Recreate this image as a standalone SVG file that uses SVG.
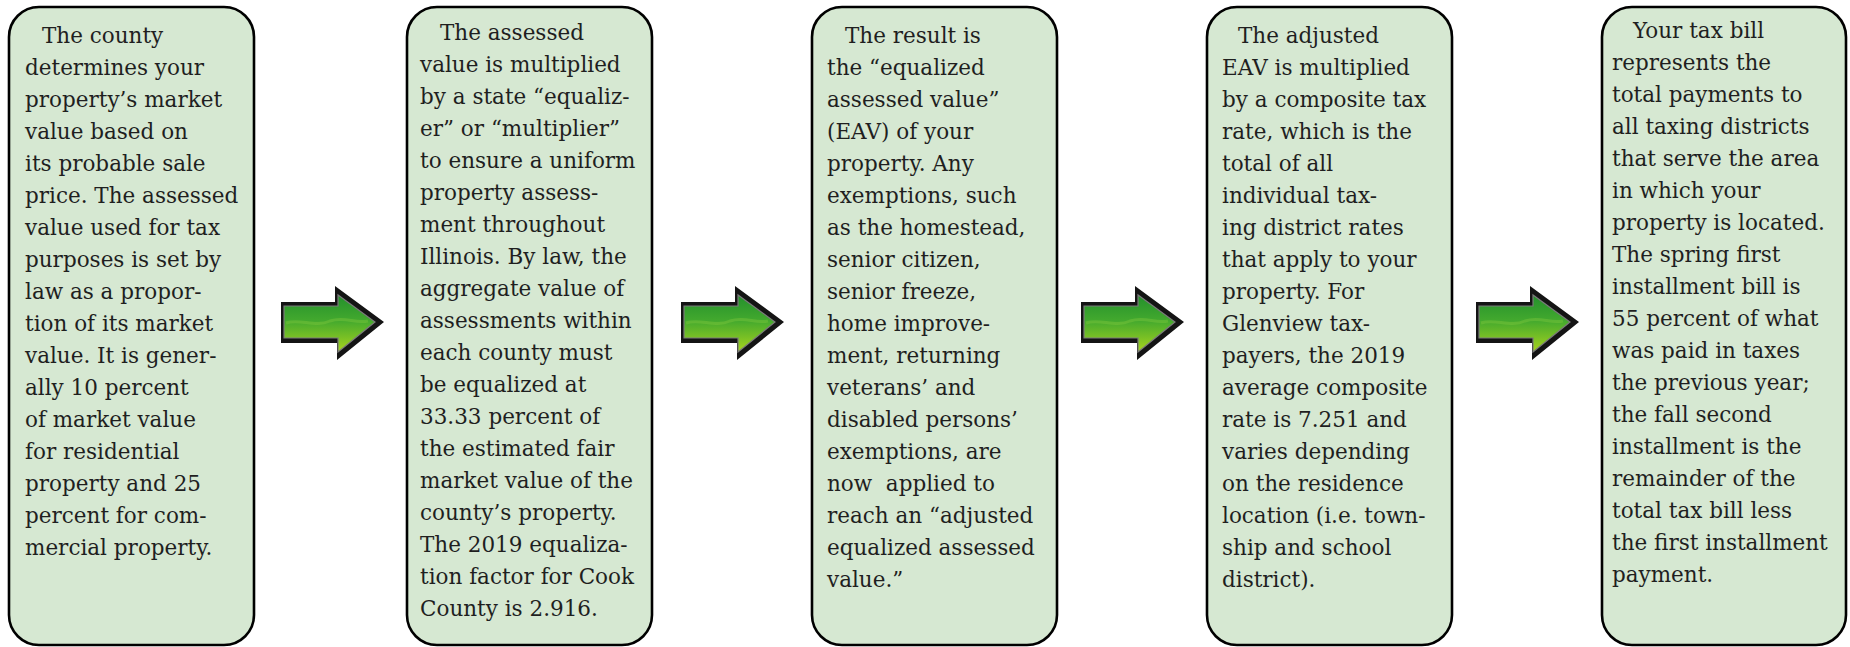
<svg xmlns="http://www.w3.org/2000/svg" width="1850" height="647" viewBox="0 0 1850 647">
<defs>
<linearGradient id="ag" x1="0" y1="0" x2="0" y2="1">
<stop offset="0" stop-color="#23902c"/>
<stop offset="0.45" stop-color="#43a92e"/>
<stop offset="1" stop-color="#a8d41d"/>
</linearGradient>
<g id="arrow">
<path d="M281,302 H335 V286 L384,322 L337,360 V343 H281 Z" fill="#141414"/>
<path d="M284,306 H338 V295 L375,322 L338,352 V338 H284 Z" fill="url(#ag)" stroke="#7a7a7a" stroke-width="1.2"/>
<path d="M286,323 C300,318 315,328 330,321 C345,316 355,324 368,321" fill="none" stroke="#7cc63c" stroke-width="3" opacity="0.45"/>
</g>
</defs>
<style>
.box{fill:#d6e8d2;stroke:#000;stroke-width:2.6}
.t{font-family:"DejaVu Serif","Liberation Serif",serif;font-size:21.5px;fill:#1f1f1f}
</style>
<g id="connectors">
<use href="#arrow"/>
<use href="#arrow" transform="translate(400,0)"/>
<use href="#arrow" transform="translate(800,0)"/>
<use href="#arrow" transform="translate(1195,0)"/>
</g>
<g id="node1">
<rect class="box" x="9" y="7" width="245" height="638" rx="30"/>
<text class="t"><tspan x="42" y="43">The county</tspan><tspan x="25" dy="32">determines your</tspan><tspan x="25" dy="32">property’s market</tspan><tspan x="25" dy="32">value based on</tspan><tspan x="25" dy="32">its probable sale</tspan><tspan x="25" dy="32">price. The assessed</tspan><tspan x="25" dy="32">value used for tax</tspan><tspan x="25" dy="32">purposes is set by</tspan><tspan x="25" dy="32">law as a propor-</tspan><tspan x="25" dy="32">tion of its market</tspan><tspan x="25" dy="32">value. It is gener-</tspan><tspan x="25" dy="32">ally 10 percent</tspan><tspan x="25" dy="32">of market value</tspan><tspan x="25" dy="32">for residential</tspan><tspan x="25" dy="32">property and 25</tspan><tspan x="25" dy="32">percent for com-</tspan><tspan x="25" dy="32">mercial property.</tspan></text>
</g>
<g id="node2">
<rect class="box" x="407" y="7" width="245" height="638" rx="30"/>
<text class="t"><tspan x="440" y="40">The assessed</tspan><tspan x="420" dy="32">value is multiplied</tspan><tspan x="420" dy="32">by a state “equaliz-</tspan><tspan x="420" dy="32">er” or “multiplier”</tspan><tspan x="420" dy="32">to ensure a uniform</tspan><tspan x="420" dy="32">property assess-</tspan><tspan x="420" dy="32">ment throughout</tspan><tspan x="420" dy="32">Illinois. By law, the</tspan><tspan x="420" dy="32">aggregate value of</tspan><tspan x="420" dy="32">assessments within</tspan><tspan x="420" dy="32">each county must</tspan><tspan x="420" dy="32">be equalized at</tspan><tspan x="420" dy="32">33.33 percent of</tspan><tspan x="420" dy="32">the estimated fair</tspan><tspan x="420" dy="32">market value of the</tspan><tspan x="420" dy="32">county’s property.</tspan><tspan x="420" dy="32">The 2019 equaliza-</tspan><tspan x="420" dy="32">tion factor for Cook</tspan><tspan x="420" dy="32">County is 2.916.</tspan></text>
</g>
<g id="node3">
<rect class="box" x="812" y="7" width="245" height="638" rx="30"/>
<text class="t" xml:space="preserve"><tspan x="845" y="43">The result is</tspan><tspan x="827" dy="32">the “equalized</tspan><tspan x="827" dy="32">assessed value”</tspan><tspan x="827" dy="32">(EAV) of your</tspan><tspan x="827" dy="32">property. Any</tspan><tspan x="827" dy="32">exemptions, such</tspan><tspan x="827" dy="32">as the homestead,</tspan><tspan x="827" dy="32">senior citizen,</tspan><tspan x="827" dy="32">senior freeze,</tspan><tspan x="827" dy="32">home improve-</tspan><tspan x="827" dy="32">ment, returning</tspan><tspan x="827" dy="32">veterans’ and</tspan><tspan x="827" dy="32">disabled persons’</tspan><tspan x="827" dy="32">exemptions, are</tspan><tspan x="827" dy="32">now  applied to</tspan><tspan x="827" dy="32">reach an “adjusted</tspan><tspan x="827" dy="32">equalized assessed</tspan><tspan x="827" dy="32">value.”</tspan></text>
</g>
<g id="node4">
<rect class="box" x="1207" y="7" width="245" height="638" rx="30"/>
<text class="t"><tspan x="1238" y="43">The adjusted</tspan><tspan x="1222" dy="32">EAV is multiplied</tspan><tspan x="1222" dy="32">by a composite tax</tspan><tspan x="1222" dy="32">rate, which is the</tspan><tspan x="1222" dy="32">total of all</tspan><tspan x="1222" dy="32">individual tax-</tspan><tspan x="1222" dy="32">ing district rates</tspan><tspan x="1222" dy="32">that apply to your</tspan><tspan x="1222" dy="32">property. For</tspan><tspan x="1222" dy="32">Glenview tax-</tspan><tspan x="1222" dy="32">payers, the 2019</tspan><tspan x="1222" dy="32">average composite</tspan><tspan x="1222" dy="32">rate is 7.251 and</tspan><tspan x="1222" dy="32">varies depending</tspan><tspan x="1222" dy="32">on the residence</tspan><tspan x="1222" dy="32">location (i.e. town-</tspan><tspan x="1222" dy="32">ship and school</tspan><tspan x="1222" dy="32">district).</tspan></text>
</g>
<g id="node5">
<rect class="box" x="1602" y="7" width="244" height="638" rx="30"/>
<text class="t"><tspan x="1633" y="38">Your tax bill</tspan><tspan x="1612" dy="32">represents the</tspan><tspan x="1612" dy="32">total payments to</tspan><tspan x="1612" dy="32">all taxing districts</tspan><tspan x="1612" dy="32">that serve the area</tspan><tspan x="1612" dy="32">in which your</tspan><tspan x="1612" dy="32">property is located.</tspan><tspan x="1612" dy="32">The spring first</tspan><tspan x="1612" dy="32">installment bill is</tspan><tspan x="1612" dy="32">55 percent of what</tspan><tspan x="1612" dy="32">was paid in taxes</tspan><tspan x="1612" dy="32">the previous year;</tspan><tspan x="1612" dy="32">the fall second</tspan><tspan x="1612" dy="32">installment is the</tspan><tspan x="1612" dy="32">remainder of the</tspan><tspan x="1612" dy="32">total tax bill less</tspan><tspan x="1612" dy="32">the first installment</tspan><tspan x="1612" dy="32">payment.</tspan></text>
</g>
</svg>
